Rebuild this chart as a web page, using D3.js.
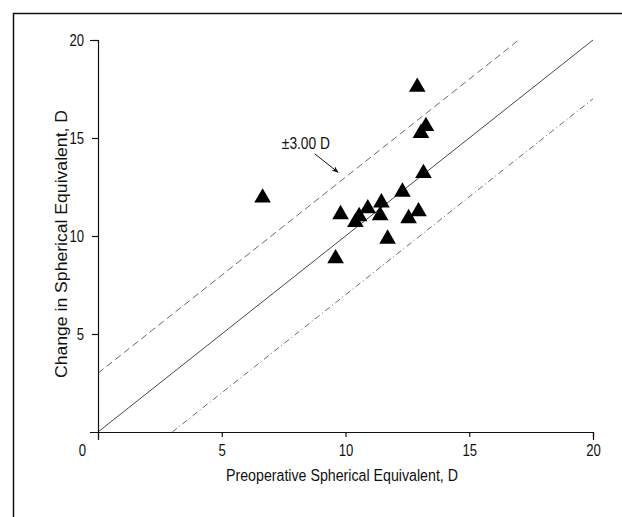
<!DOCTYPE html>
<html>
<head>
<meta charset="utf-8">
<script src="https://cdn.jsdelivr.net/npm/d3@7"></script>
<style>
  body { margin: 0; background: #fff; }
  text { font-family: "Liberation Sans", Arial, sans-serif; }
</style>
</head>
<body>
<div id="d3"></div>
<script>
// preoperative SE (x) vs change in SE (y), both in D
const preopSE = [12.9, 13.25, 13.05, 13.15, 12.3, 11.45, 10.9, 9.8, 10.55, 10.4, 11.4, 12.95, 12.55, 11.7, 9.6, 6.65];
const changeSE = [17.6, 15.6, 15.25, 13.2, 12.25, 11.7, 11.4, 11.1, 11.0, 10.7, 11.05, 11.25, 10.9, 9.85, 8.85, 11.95];

const xTicks = [0, 5, 10, 15, 20];
const yTicks = [5, 10, 15, 20];

// reference lines: y = x + offset
const lineOffsets = [0, 3, -3];
const annotation = "±3.00 D";

const settings = {
  width: 622,
  height: 517,
  left: 98,
  right: 593,
  top: 40,
  bottom: 432,
  fontSize: "16px",
  markerSize: 120,
  // the scan uses a condensed face, so squeeze the text a bit
  squeeze: 0.82,
};

// squash text horizontally to mimic a narrow font
function condense(sel, ratio) {
  sel.each(function () {
    const t = d3.select(this);
    const w = this.getComputedTextLength();
    t.attr("textLength", w * ratio).attr("lengthAdjust", "spacingAndGlyphs");
  });
}

function drawSVG() {
  const svg = d3
    .select("#d3")
    .append("svg")
    .attr("width", settings.width)
    .attr("height", settings.height);

  // frame round the figure (runs off the right and bottom edge)
  svg.append("rect")
    .attr("x", 13.5)
    .attr("y", 13.5)
    .attr("width", 640)
    .attr("height", 540)
    .attr("fill", "none")
    .attr("stroke", "#111")
    .attr("stroke-width", 1.5);

  const x = d3.scaleLinear().domain([0, 20]).range([settings.left, settings.right]);
  const y = d3.scaleLinear().domain([0, 20]).range([settings.bottom, settings.top]);

  const dashes = { "0": null, "3": "7,4", "-3": "6,3,1,3" };

  // diagonal lines, clipped to the 0-20 box
  lineOffsets.forEach(function (off) {
    const x0 = Math.max(0, -off);
    const x1 = Math.min(20, 20 - off);
    svg.append("line")
      .attr("x1", x(x0)).attr("y1", y(x0 + off))
      .attr("x2", x(x1)).attr("y2", y(x1 + off))
      .attr("stroke", off === 0 ? "#333" : "#444")
      .attr("stroke-width", off === 0 ? 0.9 : 0.8)
      .attr("stroke-dasharray", dashes[off]);
  });

  // axes
  const xAxis = svg.append("g")
    .attr("transform", `translate(0, ${settings.bottom})`)
    .call(d3.axisBottom(x).tickValues(xTicks).tickSize(5).tickSizeOuter(8));
  const yAxis = svg.append("g")
    .attr("transform", `translate(${settings.left}, 0)`)
    .call(d3.axisLeft(y).tickValues(yTicks).tickSize(6).tickSizeOuter(8));

  [xAxis, yAxis].forEach(function (g) {
    g.selectAll("path, line").attr("stroke", "#111").attr("stroke-width", 1.2);
    g.selectAll("text").attr("font-size", settings.fontSize).attr("fill", "#111")
      .style("font-family", "'Liberation Sans', Arial, sans-serif");
  });
  xAxis.selectAll("text").attr("dy", "1.0em");
  // the 0 label sits left of the origin
  xAxis.selectAll(".tick").filter(d => d === 0).select("text").attr("x", -16);
  yAxis.selectAll("text").attr("x", -14);
  condense(xAxis.selectAll("text"), settings.squeeze);
  condense(yAxis.selectAll("text"), settings.squeeze);

  // axis titles
  const xTitle = svg.append("text")
    .attr("x", 342)
    .attr("y", 481)
    .attr("text-anchor", "middle")
    .attr("font-size", settings.fontSize)
    .attr("fill", "#111")
    .text("Preoperative Spherical Equivalent, D");
  xTitle.attr("textLength", 232).attr("lengthAdjust", "spacingAndGlyphs");

  const yTitle = svg.append("text")
    .attr("transform", `translate(67, 244) rotate(-90)`)
    .attr("text-anchor", "middle")
    .attr("font-size", settings.fontSize)
    .attr("fill", "#111")
    .text("Change in Spherical Equivalent, D");
  yTitle.attr("textLength", 268).attr("lengthAdjust", "spacingAndGlyphs");

  // ±3.00 D label with arrow to the upper line
  const defs = svg.append("defs");
  defs.append("marker")
    .attr("id", "arrow")
    .attr("viewBox", "0 0 10 10")
    .attr("refX", 9).attr("refY", 5)
    .attr("markerWidth", 7).attr("markerHeight", 7)
    .attr("orient", "auto")
    .append("path")
    .attr("d", "M0,1 L10,5 L0,9 L3,5 Z")
    .attr("fill", "#111");

  const note = svg.append("text")
    .attr("x", x(8.4))
    .attr("y", y(14.45))
    .attr("text-anchor", "middle")
    .attr("font-size", "16px")
    .attr("fill", "#111")
    .text(annotation);
  condense(note, 0.86);

  svg.append("line")
    .attr("x1", x(8.75)).attr("y1", y(14.2))
    .attr("x2", x(9.7)).attr("y2", y(13.25))
    .attr("stroke", "#111")
    .attr("stroke-width", 1)
    .attr("marker-end", "url(#arrow)");

  // data points
  const triangle = d3.symbol().type(d3.symbolTriangle).size(settings.markerSize);
  svg.append("g")
    .selectAll("path")
    .data(preopSE.map((v, i) => [v, changeSE[i]]))
    .join("path")
    .attr("d", triangle)
    .attr("fill", "#000")
    .attr("transform", d => `translate(${x(d[0])}, ${y(d[1])})`);
}

drawSVG();
</script>
</body>
</html>
